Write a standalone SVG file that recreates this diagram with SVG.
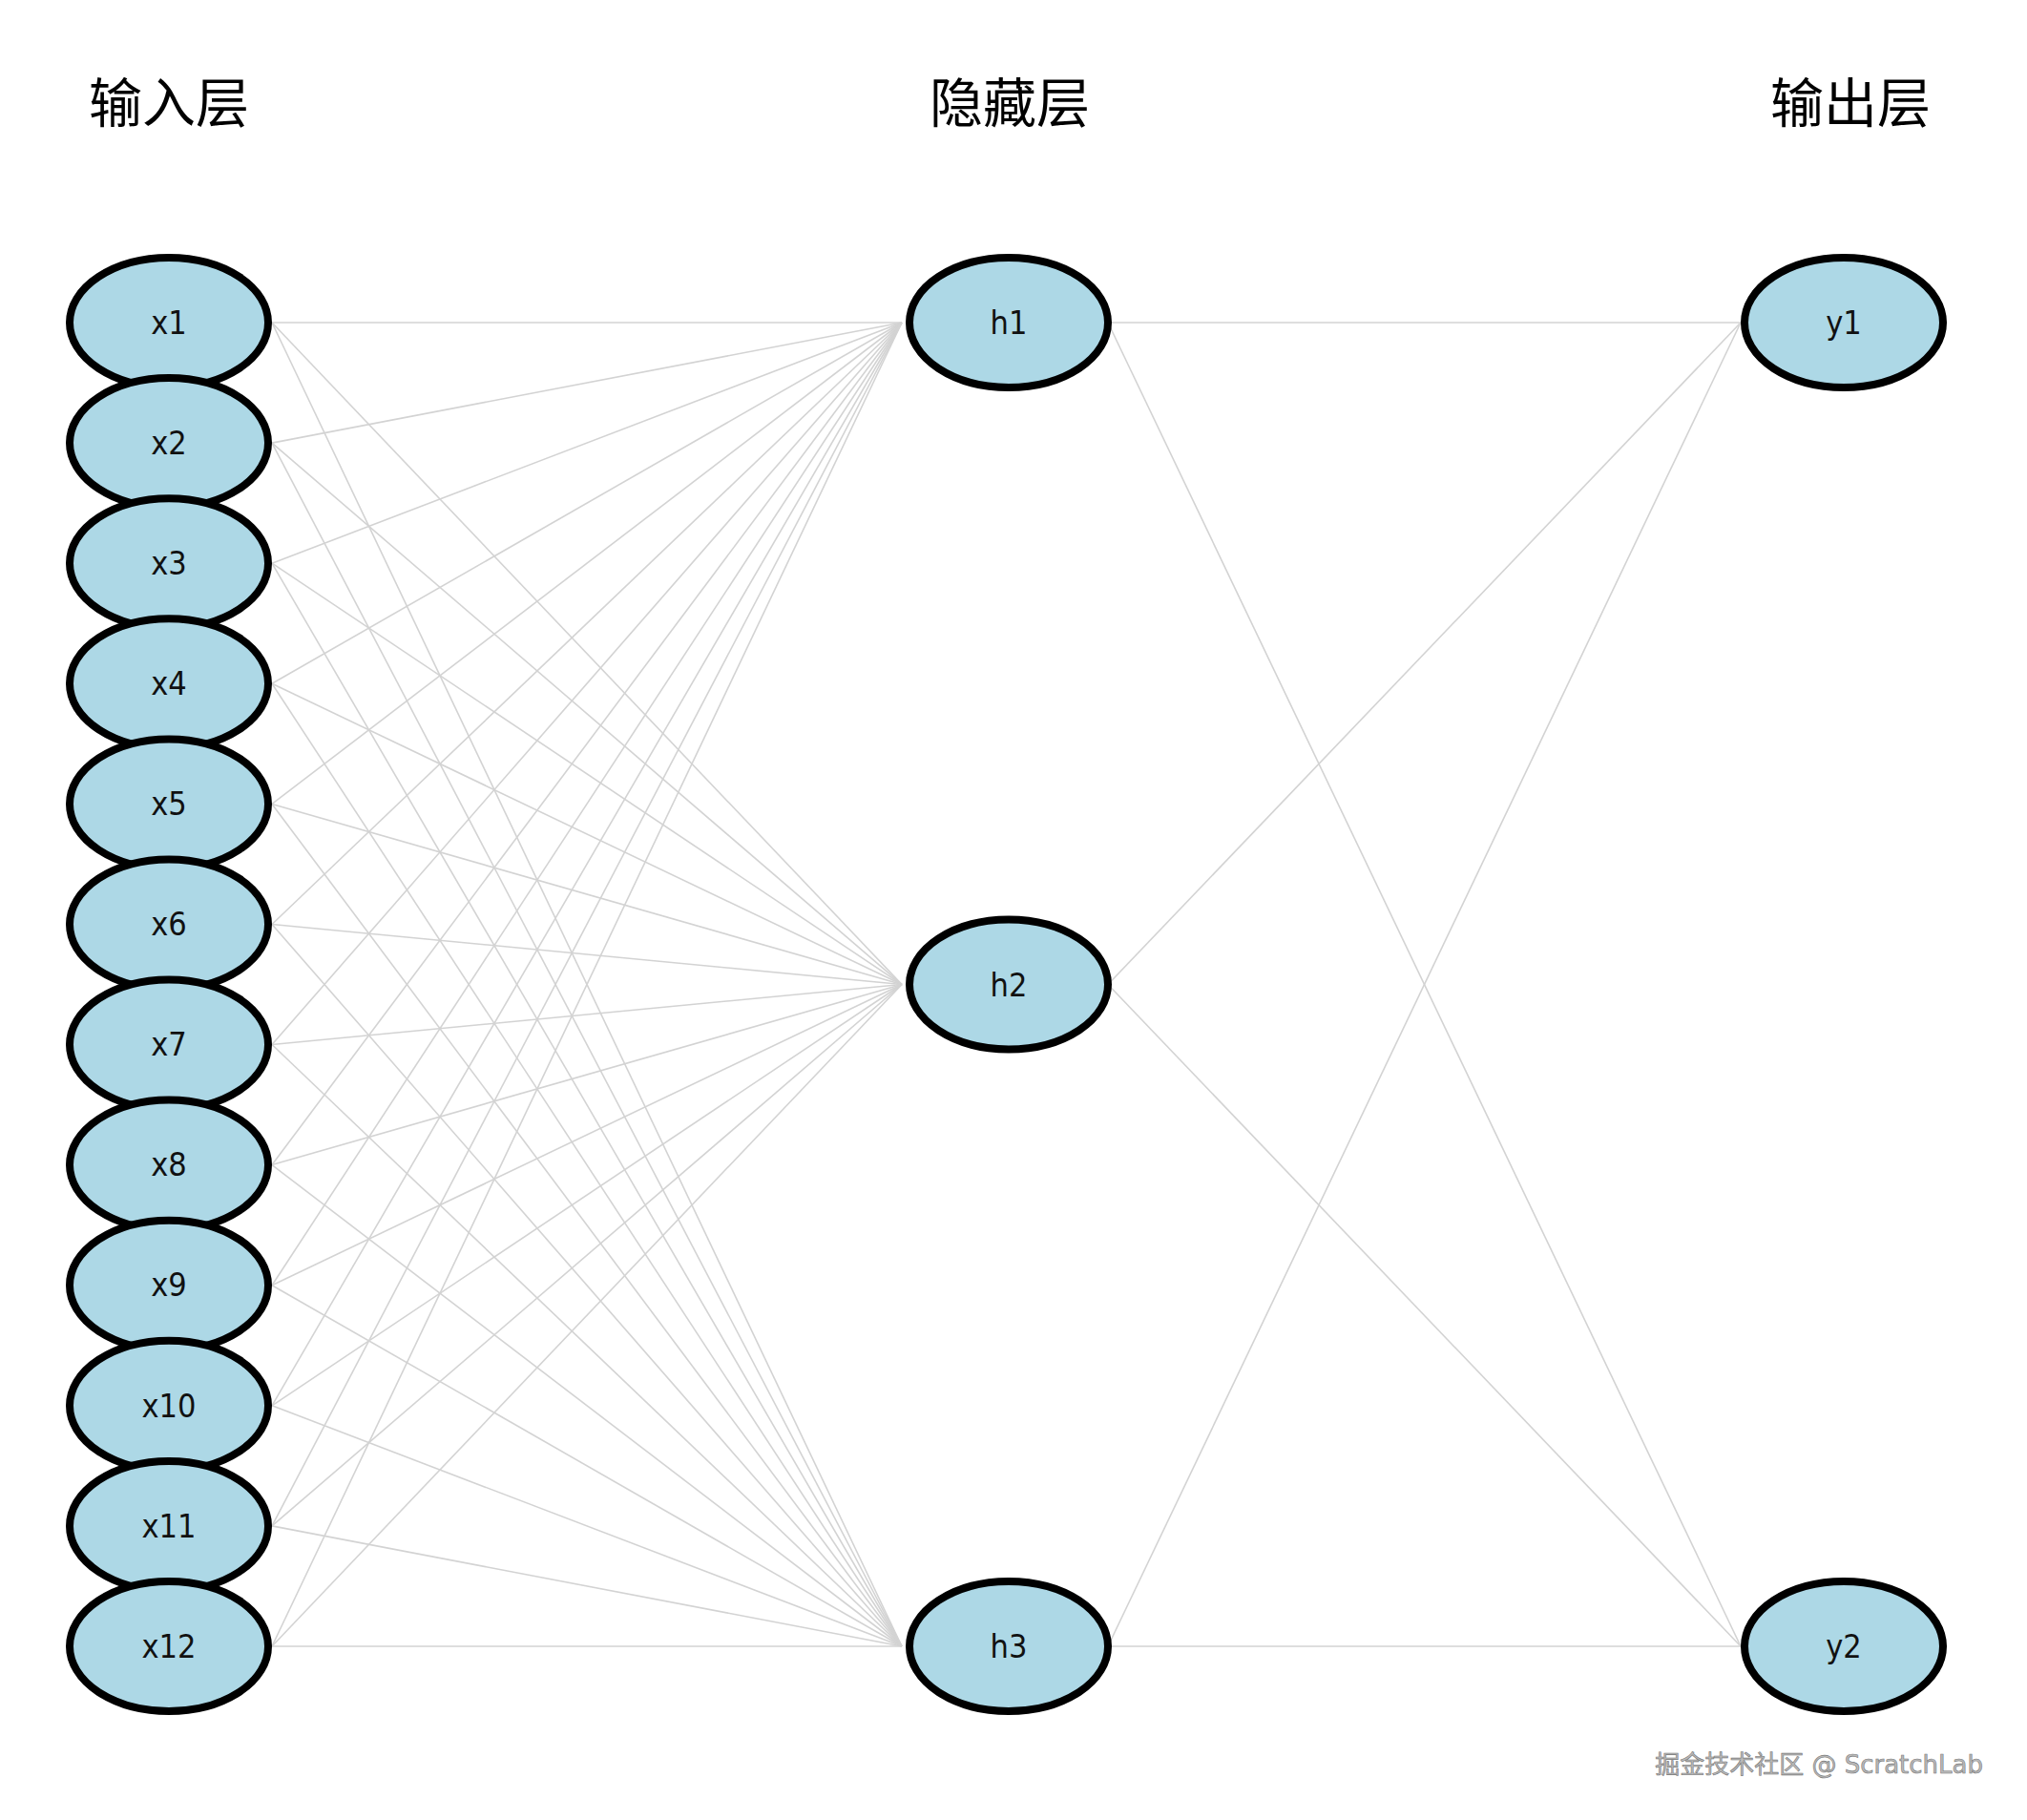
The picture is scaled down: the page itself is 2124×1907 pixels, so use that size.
<svg xmlns="http://www.w3.org/2000/svg" width="2124" height="1907" viewBox="0 0 2124 1907">
<style>
.n{fill:#add8e6;stroke:#000;stroke-width:8}
.l{font-family:"DejaVu Sans Condensed","DejaVu Sans",sans-serif;font-size:34px;text-anchor:middle;fill:#111}
.t{font-family:"Noto Sans CJK SC",sans-serif;font-size:56px;text-anchor:middle;fill:#000}
.c line{stroke:#d3d3d3;stroke-width:1.6}
</style>
<rect width="2124" height="1907" fill="#fff"/>
<text class="t" x="177" y="128">输入层</text>
<text class="t" x="1058" y="128">隐藏层</text>
<text class="t" x="1939" y="128">输出层</text>
<g class="c" id="connectors">
<line x1="285" y1="338" x2="945" y2="338"/><line x1="285" y1="338" x2="945" y2="1031.5"/><line x1="285" y1="338" x2="945" y2="1725"/>
<line x1="285" y1="464.1" x2="945" y2="338"/><line x1="285" y1="464.1" x2="945" y2="1031.5"/><line x1="285" y1="464.1" x2="945" y2="1725"/>
<line x1="285" y1="590.2" x2="945" y2="338"/><line x1="285" y1="590.2" x2="945" y2="1031.5"/><line x1="285" y1="590.2" x2="945" y2="1725"/>
<line x1="285" y1="716.3" x2="945" y2="338"/><line x1="285" y1="716.3" x2="945" y2="1031.5"/><line x1="285" y1="716.3" x2="945" y2="1725"/>
<line x1="285" y1="842.4" x2="945" y2="338"/><line x1="285" y1="842.4" x2="945" y2="1031.5"/><line x1="285" y1="842.4" x2="945" y2="1725"/>
<line x1="285" y1="968.5" x2="945" y2="338"/><line x1="285" y1="968.5" x2="945" y2="1031.5"/><line x1="285" y1="968.5" x2="945" y2="1725"/>
<line x1="285" y1="1094.5" x2="945" y2="338"/><line x1="285" y1="1094.5" x2="945" y2="1031.5"/><line x1="285" y1="1094.5" x2="945" y2="1725"/>
<line x1="285" y1="1220.6" x2="945" y2="338"/><line x1="285" y1="1220.6" x2="945" y2="1031.5"/><line x1="285" y1="1220.6" x2="945" y2="1725"/>
<line x1="285" y1="1346.7" x2="945" y2="338"/><line x1="285" y1="1346.7" x2="945" y2="1031.5"/><line x1="285" y1="1346.7" x2="945" y2="1725"/>
<line x1="285" y1="1472.8" x2="945" y2="338"/><line x1="285" y1="1472.8" x2="945" y2="1031.5"/><line x1="285" y1="1472.8" x2="945" y2="1725"/>
<line x1="285" y1="1598.9" x2="945" y2="338"/><line x1="285" y1="1598.9" x2="945" y2="1031.5"/><line x1="285" y1="1598.9" x2="945" y2="1725"/>
<line x1="285" y1="1725" x2="945" y2="338"/><line x1="285" y1="1725" x2="945" y2="1031.5"/><line x1="285" y1="1725" x2="945" y2="1725"/>
<line x1="1161" y1="338" x2="1824" y2="338"/><line x1="1161" y1="338" x2="1824" y2="1725"/>
<line x1="1161" y1="1031.5" x2="1824" y2="338"/><line x1="1161" y1="1031.5" x2="1824" y2="1725"/>
<line x1="1161" y1="1725" x2="1824" y2="338"/><line x1="1161" y1="1725" x2="1824" y2="1725"/>
</g>
<g id="x1"><ellipse class="n" cx="177" cy="338" rx="104" ry="68"/><text class="l" x="177" y="350">x1</text></g>
<g id="x2"><ellipse class="n" cx="177" cy="464.1" rx="104" ry="68"/><text class="l" x="177" y="476">x2</text></g>
<g id="x3"><ellipse class="n" cx="177" cy="590.2" rx="104" ry="68"/><text class="l" x="177" y="602">x3</text></g>
<g id="x4"><ellipse class="n" cx="177" cy="716.3" rx="104" ry="68"/><text class="l" x="177" y="728">x4</text></g>
<g id="x5"><ellipse class="n" cx="177" cy="842.4" rx="104" ry="68"/><text class="l" x="177" y="854">x5</text></g>
<g id="x6"><ellipse class="n" cx="177" cy="968.5" rx="104" ry="68"/><text class="l" x="177" y="980">x6</text></g>
<g id="x7"><ellipse class="n" cx="177" cy="1094.5" rx="104" ry="68"/><text class="l" x="177" y="1106">x7</text></g>
<g id="x8"><ellipse class="n" cx="177" cy="1220.6" rx="104" ry="68"/><text class="l" x="177" y="1232">x8</text></g>
<g id="x9"><ellipse class="n" cx="177" cy="1346.7" rx="104" ry="68"/><text class="l" x="177" y="1358">x9</text></g>
<g id="x10"><ellipse class="n" cx="177" cy="1472.8" rx="104" ry="68"/><text class="l" x="177" y="1485">x10</text></g>
<g id="x11"><ellipse class="n" cx="177" cy="1598.9" rx="104" ry="68"/><text class="l" x="177" y="1611">x11</text></g>
<g id="x12"><ellipse class="n" cx="177" cy="1725" rx="104" ry="68"/><text class="l" x="177" y="1737">x12</text></g>
<g id="h1"><ellipse class="n" cx="1057" cy="338" rx="104" ry="68"/><text class="l" x="1057" y="350">h1</text></g>
<g id="h2"><ellipse class="n" cx="1057" cy="1031.5" rx="104" ry="68"/><text class="l" x="1057" y="1044">h2</text></g>
<g id="h3"><ellipse class="n" cx="1057" cy="1725" rx="104" ry="68"/><text class="l" x="1057" y="1737">h3</text></g>
<g id="y1"><ellipse class="n" cx="1932" cy="338" rx="104" ry="68"/><text class="l" x="1932" y="350">y1</text></g>
<g id="y2"><ellipse class="n" cx="1932" cy="1725" rx="104" ry="68"/><text class="l" x="1932" y="1737">y2</text></g>
<text x="2078" y="1858" text-anchor="end" font-family="'DejaVu Sans','Noto Sans CJK SC',sans-serif" font-size="26" fill="#bbb" stroke="#777" stroke-width="0.6">掘金技术社区 @ ScratchLab</text>
</svg>
